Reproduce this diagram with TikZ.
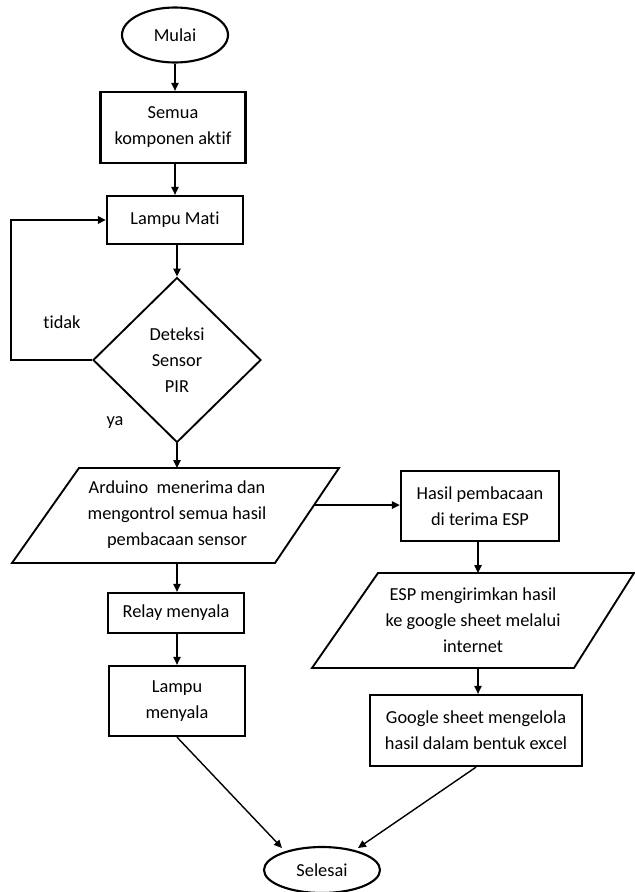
\documentclass[tikz,border=0pt]{standalone}
\usepackage{fontspec}
\setmainfont{Carlito}[Ligatures=NoCommon]
\usetikzlibrary{shapes.geometric,arrows.meta,calc}
\begin{document}
\begin{tikzpicture}[x=0.75pt,y=-0.75pt,
  font=\fontsize{13.75}{19.5}\selectfont,
  box/.style={draw,line width=1.7pt,rectangle,align=center,inner sep=0pt},
  term/.style={draw,line width=1.6pt,ellipse,inner sep=0pt},
  dec/.style={draw,line width=1.4pt,diamond,align=center,inner sep=0pt},
  iotext/.style={align=center,inner sep=0pt},
  ioline/.style={line width=1.4pt,line join=miter},
  conn/.style={line width=1.05pt,-{Triangle[length=6pt,width=5.5pt]}},
  lbl/.style={inner sep=0pt}]
\useasboundingbox (0,0) rectangle (635,892);

% left column
\node[term,minimum width=79.5pt,minimum height=41.25pt] (mulai) at (175,35) {Mulai};
\node[box,minimum width=108.75pt,minimum height=53.25pt] (semua) at (173,127.5) {Semua\\komponen aktif};
\node[box,minimum width=102pt,minimum height=36pt] (mati) at (175,220) {Lampu Mati};
\node[dec,minimum width=126pt,minimum height=123.75pt] (pir) at (177,360) {Deteksi\\Sensor\\PIR};

% Arduino parallelogram
\coordinate (ardTL) at (79,468);
\coordinate (ardTR) at (339,468);
\coordinate (ardBR) at (275,563);
\coordinate (ardBL) at (12,563);
\draw[ioline] (ardTL) -- (ardTR) -- (ardBR) -- (ardBL) -- cycle;
\node[iotext] (ard) at (177,515) {Arduino\ \ menerima dan\\mengontrol semua hasil\\pembacaan sensor};
\coordinate (ardT) at (177,468);
\coordinate (ardB) at (177,563);
\coordinate (ardR) at ($(ardTR)!0.39!(ardBR)$);

\node[box,minimum width=102pt,minimum height=30pt] (relay) at (176,613) {Relay menyala};
\node[box,minimum width=102pt,minimum height=52.5pt] (lampu) at (177,701) {Lampu\\menyala};

% right column
\node[box,minimum width=118.5pt,minimum height=52.5pt] (hasil) at (480,506) {Hasil pembacaan\\di terima ESP};

\coordinate (espTL) at (378,573);
\coordinate (espTR) at (634,573);
\coordinate (espBR) at (574,668);
\coordinate (espBL) at (312,668);
\draw[ioline] (espTL) -- (espTR) -- (espBR) -- (espBL) -- cycle;
\node[iotext] (esp) at (473,620) {ESP mengirimkan hasil\\ke google sheet melalui\\internet};
\coordinate (espT) at (478,573);
\coordinate (espB) at (478,668);

\node[box,minimum width=159pt,minimum height=53.25pt] (google) at (476,730.5) {Google sheet mengelola\\hasil dalam bentuk excel};

\node[term,minimum width=87pt,minimum height=34.5pt] (selesai) at (322,870) {Selesai};

% labels
\node[lbl] (tidak) at (62,322) {tidak};
\node[lbl] (ya) at (115,423) {ya};

% connectors
\draw[conn] (mulai.south) -- (mulai.south |- semua.north);
\draw[conn] (semua.south -| mati.north) -- (mati.north);
\draw[conn] (mati.south -| pir.north) -- (pir.north);
\draw[conn] (pir.south) -- (ardT);
\coordinate (loopB) at (11,360);
\draw[conn,line width=1.4pt] (pir.west) -- (loopB) |- (mati.west);
\draw[conn,line width=1.4pt] (ardR) -- (ardR -| hasil.west);
\draw[conn] (ardB) -- (ardB |- relay.north);
\draw[conn] (relay.south -| lampu.north) -- (lampu.north);
\draw[conn] (hasil.south -| espT) -- (espT);
\draw[conn] (espB) -- (espB |- google.north);
\coordinate (selL) at (282,848);
\coordinate (selR) at (358,848);
\draw[conn] (lampu.south) -- (selL);
\draw[conn] (google.south) -- (selR);
\end{tikzpicture}
\end{document}
